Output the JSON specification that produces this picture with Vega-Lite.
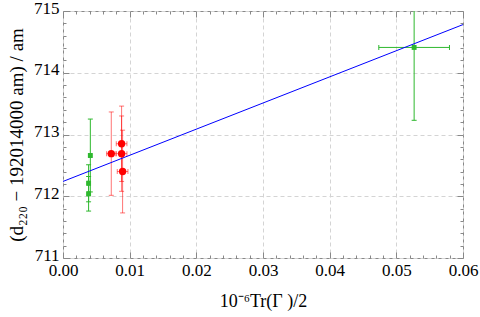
{
  "$schema": "https://vega.github.io/schema/vega-lite/v6.json",
  "autosize": "none",
  "width": 400,
  "height": 247,
  "padding": {"left": 63, "top": 11, "right": 17, "bottom": 59},
  "background": "white",
  "config": {
    "view": {"stroke": "#888888", "strokeWidth": 1},
    "scale": {"continuousPadding": 0},
    "axis": {
      "labelFont": "Liberation Serif",
      "labelFontSize": 17,
      "labelColor": "black",
      "labelFlush": false,
      "labelOverlap": false,
      "titleFont": "Liberation Serif",
      "titleFontSize": 18,
      "titleFontWeight": "normal",
      "titleColor": "black",
      "domain": false,
      "tickColor": "#888888",
      "gridColor": "#d4d4d4",
      "gridDash": [4, 3],
      "gridWidth": 1
    }
  },
  "datasets": {
    "pts": [
      {"s": "green", "x": 0.0041, "y": 712.66, "ex": 0.0002, "ey": 0.59},
      {"s": "green", "x": 0.00384, "y": 712.21, "ex": 0.0002, "ey": 0.30},
      {"s": "green", "x": 0.00384, "y": 712.04, "ex": 0.0002, "ey": 0.28},
      {"s": "green", "x": 0.05267, "y": 714.41, "ex": 0.0053, "ey": 1.18},
      {"s": "red", "x": 0.00724, "y": 712.69, "ex": 0.0007, "ey": 0.675},
      {"s": "red", "x": 0.00879, "y": 712.85, "ex": 0.0008, "ey": 0.61},
      {"s": "red", "x": 0.00879, "y": 712.69, "ex": 0.0008, "ey": 0.61},
      {"s": "red", "x": 0.00894, "y": 712.40, "ex": 0.0008, "ey": 0.67}
    ],
    "fit": [
      {"x": 0, "y": 712.24},
      {"x": 0.06, "y": 714.78}
    ]
  },
  "resolve": {"axis": {"x": "independent", "y": "independent"}},
  "layer": [
    {
      "data": {"name": "pts"},
      "mark": {"type": "errorbar", "ticks": true, "clip": true, "thickness": 1},
      "encoding": {
        "x": {"field": "x", "type": "quantitative", "scale": {"domain": [0, 0.06], "nice": false, "zero": false, "padding": 0},
              "axis": {"orient": "bottom", "values": [0.002,0.004,0.006,0.008,0.012,0.014,0.016,0.018,0.022,0.024,0.026,0.028,0.032,0.034,0.036,0.038,0.042,0.044,0.046,0.048,0.052,0.054,0.056,0.058], "labels": false, "grid": false, "tickSize": -3, "title": null}},
        "y": {"field": "y", "type": "quantitative", "scale": {"domain": [711, 715], "nice": false, "zero": false, "padding": 0},
              "axis": {"orient": "left", "values": [711.2,711.4,711.6,711.8,712.2,712.4,712.6,712.8,713.2,713.4,713.6,713.8,714.2,714.4,714.6,714.8], "labels": false, "grid": false, "tickSize": -3, "title": null}},
        "yError": {"field": "ey"},
        "color": {"field": "s", "type": "nominal", "scale": {"domain": ["green", "red"], "range": ["#2eb82e", "#ff0000"]}, "legend": null},
        "opacity": {"field": "s", "type": "nominal", "scale": {"domain": ["green", "red"], "range": [1, 0.55]}, "legend": null}
      }
    },
    {
      "data": {"name": "pts"},
      "mark": {"type": "errorbar", "ticks": true, "clip": true, "thickness": 1},
      "encoding": {
        "x": {"field": "x", "type": "quantitative", "scale": {"domain": [0, 0.06], "nice": false, "zero": false, "padding": 0},
              "axis": {"orient": "top", "values": [0.002,0.004,0.006,0.008,0.012,0.014,0.016,0.018,0.022,0.024,0.026,0.028,0.032,0.034,0.036,0.038,0.042,0.044,0.046,0.048,0.052,0.054,0.056,0.058], "labels": false, "grid": false, "tickSize": -3, "title": null}},
        "xError": {"field": "ex"},
        "y": {"field": "y", "type": "quantitative", "scale": {"domain": [711, 715], "nice": false, "zero": false, "padding": 0},
              "axis": {"orient": "right", "values": [711.2,711.4,711.6,711.8,712.2,712.4,712.6,712.8,713.2,713.4,713.6,713.8,714.2,714.4,714.6,714.8], "labels": false, "grid": false, "tickSize": -3, "title": null}},
        "color": {"field": "s", "type": "nominal", "scale": {"domain": ["green", "red"], "range": ["#2eb82e", "#ff0000"]}, "legend": null},
        "opacity": {"field": "s", "type": "nominal", "scale": {"domain": ["green", "red"], "range": [1, 0.55]}, "legend": null}
      }
    },
    {
      "data": {"name": "fit"},
      "mark": {"type": "line", "color": "#0000ff", "strokeWidth": 1, "clip": true},
      "encoding": {
        "x": {"field": "x", "type": "quantitative", "scale": {"domain": [0, 0.06], "nice": false, "zero": false, "padding": 0},
              "axis": {"orient": "bottom", "values": [0, 0.01, 0.02, 0.03, 0.04, 0.05, 0.06], "format": ".2f", "grid": true, "tickSize": -6, "labelPadding": 10, "title": "10⁻⁶Tr(Γ )/2", "titlePadding": 14}},
        "y": {"field": "y", "type": "quantitative", "scale": {"domain": [711, 715], "nice": false, "zero": false, "padding": 0},
              "axis": {"orient": "left", "values": [711, 712, 713, 714, 715], "format": "d", "grid": true, "tickSize": -6, "labelPadding": 10, "labelOffset": -3, "title": "(d₂₂₀ − 192014000 am) / am", "titleFontSize": 19, "titlePadding": 7}}
      }
    },
    {
      "data": {"name": "pts"},
      "transform": [{"filter": "datum.s == 'green'"}],
      "mark": {"type": "square", "filled": true, "size": 24, "color": "#2eb82e", "opacity": 1},
      "encoding": {
        "x": {"field": "x", "type": "quantitative", "scale": {"domain": [0, 0.06], "nice": false, "zero": false, "padding": 0},
              "axis": {"orient": "top", "values": [0, 0.01, 0.02, 0.03, 0.04, 0.05, 0.06], "labels": false, "grid": false, "tickSize": -6, "title": null}},
        "y": {"field": "y", "type": "quantitative", "scale": {"domain": [711, 715], "nice": false, "zero": false, "padding": 0},
              "axis": {"orient": "right", "values": [711, 712, 713, 714, 715], "labels": false, "grid": false, "tickSize": -6, "title": null}}
      }
    },
    {
      "data": {"name": "pts"},
      "transform": [{"filter": "datum.s == 'red'"}],
      "mark": {"type": "circle", "size": 55, "color": "#ff0000", "opacity": 1},
      "encoding": {
        "x": {"field": "x", "type": "quantitative", "scale": {"domain": [0, 0.06], "nice": false, "zero": false, "padding": 0}, "axis": null},
        "y": {"field": "y", "type": "quantitative", "scale": {"domain": [711, 715], "nice": false, "zero": false, "padding": 0}, "axis": null}
      }
    }
  ]
}
